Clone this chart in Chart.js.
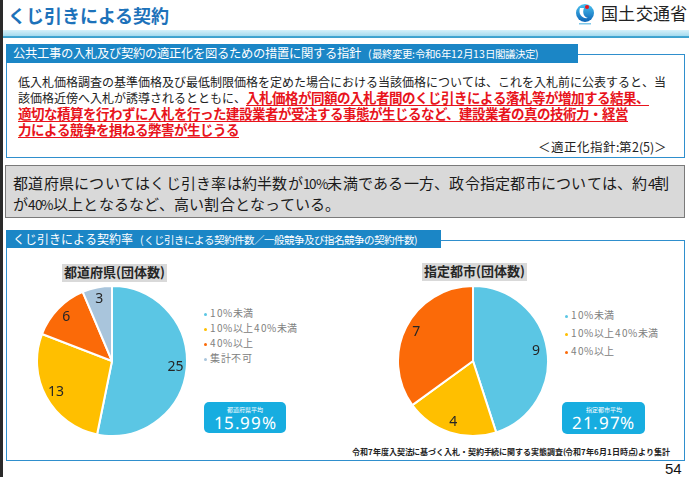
<!DOCTYPE html>
<html lang="ja">

<head>
  <meta charset="UTF-8">
  <title>くじ引きによる契約</title>
  <script src="https://cdn.jsdelivr.net/npm/chart.js"></script>
  <style>
    /* 行間を詰めても文字の箱が重ならないように、縦の寸法だけ詰めた別名フォント */
    @font-face {
      font-family: "TJP";
      src: local("Noto Sans CJK JP"), local("NotoSansCJKjp-Regular");
      font-weight: 400;
      ascent-override: 92%;
      descent-override: 22%;
      line-gap-override: 0%;
    }

    @font-face {
      font-family: "TJP";
      src: local("Noto Sans CJK JP Bold"), local("NotoSansCJKjp-Bold");
      font-weight: 700;
      ascent-override: 92%;
      descent-override: 22%;
      line-gap-override: 0%;
    }

    @font-face {
      font-family: "TSans";
      src: local("Noto Sans"), local("NotoSans-Regular");
      font-weight: 400;
      ascent-override: 86%;
      descent-override: 20%;
      line-gap-override: 0%;
    }

    body {
      margin: 0;
      background: #fff;
      font-family: "TJP", "Noto Sans CJK JP", "Noto Sans", sans-serif;
    }

    .page {
      position: relative;
      width: 689px;
      height: 477px;
      overflow: hidden;
      background: #fff;
    }

    .abs {
      position: absolute;
      white-space: nowrap;
    }

    .edge {
      left: 0;
      top: 0;
      width: 3px;
      height: 477px;
      background: #2a2a2a;
    }

    .title {
      left: 8px;
      top: 5px;
      font-size: 18px;
      font-weight: bold;
      color: #1d72ba;
      line-height: 24px;
    }

    .band {
      left: 3px;
      top: 30px;
      width: 686px;
      height: 8px;
      background: linear-gradient(#d6f1fa, #a7dcef 70%, #45a9d3 72%, #3b9fcc);
    }

    .ministry {
      left: 601px;
      top: 3px;
      font-size: 17px;
      line-height: 22px;
      color: #222;
      letter-spacing: 0.3px;
    }

    .box {
      border: 1.5px solid #2f8fcd;
      box-sizing: border-box;
    }

    .tab {
      background: #1b86c6;
      color: #fff;
      font-size: 12px;
      line-height: 19px;
      padding-left: 7px;
      padding-top: 1px;
      box-sizing: border-box;
    }

    .tab small {
      font-size: 10.5px;
      margin-left: 7px;
    }

    .line {
      left: 18px;
      font-size: 12px;
      line-height: 16px;
      height: 16px;
      color: #222;
    }

    .red {
      color: #e8141c;
      font-weight: bold;
      font-size: 13.5px;
      text-decoration: underline;
      text-underline-offset: 2px;
    }

    .summary {
      left: 5px;
      top: 165px;
      width: 680px;
      height: 53px;
      background: #d9d9d9;
      border: 1.5px solid #7a7a7a;
      box-sizing: border-box;
    }

    .sline {
      left: 13px;
      font-size: 15px;
      line-height: 19px;
      letter-spacing: 0.25px;
      color: #1a1a1a;
    }

    .sline .n {
      font-size: 13.5px;
      letter-spacing: -0.5px;
    }

    .ptitle {
      background: #d9d9d9;
      font-size: 13px;
      font-weight: bold;
      color: #262626;
      line-height: 18px;
      padding: 0 2px;
    }

    .legend {
      font-size: 10px;
      color: #808080;
      letter-spacing: 0.6px;
    }

    .legend .dot {
      display: inline-block;
      width: 3px;
      height: 3px;
      border-radius: 50%;
      margin-right: 3px;
      vertical-align: middle;
    }

    .avg {
      background: #17ade0;
      border-radius: 5px;
      color: #fff;
      text-align: center;
    }

    .avg .lbl {
      font-size: 6px;
      line-height: 7px;
      height: 7px;
      margin-top: 4px;
    }

    .avg .val {
      font-family: "TSans", "Noto Sans", sans-serif;
      font-size: 17px;
      line-height: 18px;
      margin-top: 1px;
      letter-spacing: 0.6px;
    }

    canvas {
      position: absolute;
    }
  </style>
</head>

<body>
  <div class="page">
    <div class="abs edge"></div>
    <div class="abs title">くじ引きによる契約</div>
    <svg class="abs" style="left:574px;top:2px" width="22" height="24" viewBox="0 0 22 24">
      <defs>
        <linearGradient id="lg" x1="0" y1="0" x2="0" y2="1">
          <stop offset="0" stop-color="#4cc3f0" />
          <stop offset="1" stop-color="#0b62b5" />
        </linearGradient>
      </defs>
      <circle cx="11" cy="11" r="9" fill="url(#lg)" />
      <path d="M6 6 C4 12 8 17 14 16 C10 15 8 11 10 6 Z" fill="#fff" />
      <circle cx="13" cy="5" r="2" fill="#e8141c" />
      <rect x="5" y="21" width="12" height="1.5" fill="#7fc8ea" />
    </svg>
    <div class="abs ministry">国土交通省</div>
    <div class="abs band"></div>

    <!-- 指針 -->
    <div class="abs box" style="left:6px;top:54px;width:679px;height:104px"></div>
    <div class="abs tab" style="left:6px;top:44px;width:572px;height:19px;font-size:12.3px">公共工事の入札及び契約の適正化を図るための措置に関する指針<small>(最終変更:令和6年12月13日閣議決定)</small></div>
    <div class="abs line" style="top:75px">低入札価格調査の基準価格及び最低制限価格を定めた場合における当該価格については、これを入札前に公表すると、当</div>
    <div class="abs line" style="top:91px">該価格近傍へ入札が誘導されるとともに、<span class="red">入札価格が同額の入札者間のくじ引きによる落札等が増加する結果、</span></div>
    <div class="abs line" style="top:107px"><span class="red">適切な積算を行わずに入札を行った建設業者が受注する事態が生じるなど、建設業者の真の技術力・経営</span></div>
    <div class="abs line" style="top:123px"><span class="red">力による競争を損ねる弊害が生じうる</span></div>
    <div class="abs line" style="top:140px;left:auto;right:22px;font-size:12.5px">＜適正化指針:第2(5)＞</div>

    <!-- まとめ -->
    <div class="abs summary"></div>
    <div class="abs sline" style="top:174px">都道府県についてはくじ引き率は約半数が<span class="n">10%</span>未満である一方、政令指定都市については、約<span class="n">4</span>割</div>
    <div class="abs sline" style="top:195px">が<span class="n">40%</span>以上となるなど、高い割合となっている。</div>

    <!-- グラフ -->
    <div class="abs box" style="left:6px;top:240px;width:679px;height:221px"></div>
    <div class="abs tab" style="left:6px;top:230px;width:435px;height:18px;line-height:18px">くじ引きによる契約率<small>(くじ引きによる契約件数／一般競争及び指名競争の契約件数)</small></div>

    <div class="abs ptitle" style="left:62px;top:264px">都道府県(団体数)</div>
    <div class="abs ptitle" style="left:422px;top:263px">指定都市(団体数)</div>

    <canvas id="prefChart" width="152" height="152" style="left:36px;top:285px"></canvas>
    <canvas id="cityChart" width="152" height="152" style="left:397px;top:285px"></canvas>

    <div class="abs legend" id="prefLegend" style="left:204px;top:306px;line-height:15px"></div>
    <div class="abs legend" id="cityLegend" style="left:565px;top:307px;line-height:18px"></div>

    <div class="abs avg" style="left:204px;top:402px;width:82px;height:31px">
      <div class="lbl">都道府県平均</div>
      <div class="val" id="prefAvg"></div>
    </div>
    <div class="abs avg" style="left:562px;top:402px;width:83px;height:32px">
      <div class="lbl">指定都市平均</div>
      <div class="val" id="cityAvg"></div>
    </div>

    <div class="abs" style="right:19px;top:447px;font-size:8px;line-height:12px;color:#222;font-weight:bold;letter-spacing:-0.1px">令和7年度入契法に基づく入札・契約手続に関する実態調査(令和7年6月1日時点)より集計</div>
    <div class="abs" style="left:665px;top:460px;font-family:'Liberation Sans',sans-serif;font-size:15px;line-height:17px;color:#111">54</div>
  </div>

  <script>
    // データ
    const prefLabels = ['10%未満', '10%以上40%未満', '40%以上', '集計不可'];
    const prefCounts = [25, 13, 6, 3];
    const cityLabels = ['10%未満', '10%以上40%未満', '40%以上'];
    const cityCounts = [9, 4, 7];
    const prefAverage = '15.99%';
    const cityAverage = '21.97%';

    const sliceColors = ['#5bc6e4', '#ffbf00', '#fb6a08', '#a9c5dc'];

    // 扇形の中に件数を書く
    const sliceLabels = {
      id: 'sliceLabels',
      afterDatasetsDraw(chart) {
        const ctx = chart.ctx;
        const meta = chart.getDatasetMeta(0);
        ctx.save();
        ctx.font = '14px "Noto Sans"';
        ctx.fillStyle = '#262626';
        ctx.textAlign = 'center';
        ctx.textBaseline = 'middle';
        meta.data.forEach((arc, i) => {
          const p = arc.getProps(['x', 'y', 'startAngle', 'endAngle', 'outerRadius'], true);
          const a = (p.startAngle + p.endAngle) / 2;
          const r = p.outerRadius * 0.85;
          ctx.fillText(chart.data.datasets[0].data[i], p.x + Math.cos(a) * r, p.y + Math.sin(a) * r);
        });
        ctx.restore();
      }
    };

    function makePie(id, labels, counts) {
      const data = {
        labels: labels,
        datasets: [{
          data: counts,
          backgroundColor: sliceColors.slice(0, counts.length),
          borderColor: '#ffffff',
          borderWidth: 2,
          hoverOffset: 0
        }]
      };
      const config = {
        type: 'pie',
        data: data,
        options: {
          responsive: false,
          animation: false,
          events: [],
          layout: { padding: 0 },
          plugins: {
            legend: { display: false },
            tooltip: { enabled: false }
          }
        },
        plugins: [sliceLabels]
      };
      return new Chart(document.getElementById(id), config);
    }

    function fillLegend(chart, id) {
      const box = document.getElementById(id);
      const colors = chart.data.datasets[0].backgroundColor;
      chart.data.labels.forEach((label, i) => {
        const row = document.createElement('div');
        row.innerHTML = `<span class="dot" style="background:${colors[i]}"></span>${label}`;
        box.appendChild(row);
      });
    }

    const prefChart = makePie('prefChart', prefLabels, prefCounts);
    const cityChart = makePie('cityChart', cityLabels, cityCounts);
    fillLegend(prefChart, 'prefLegend');
    fillLegend(cityChart, 'cityLegend');

    document.getElementById('prefAvg').textContent = prefAverage;
    document.getElementById('cityAvg').textContent = cityAverage;
  </script>
</body>

</html>
